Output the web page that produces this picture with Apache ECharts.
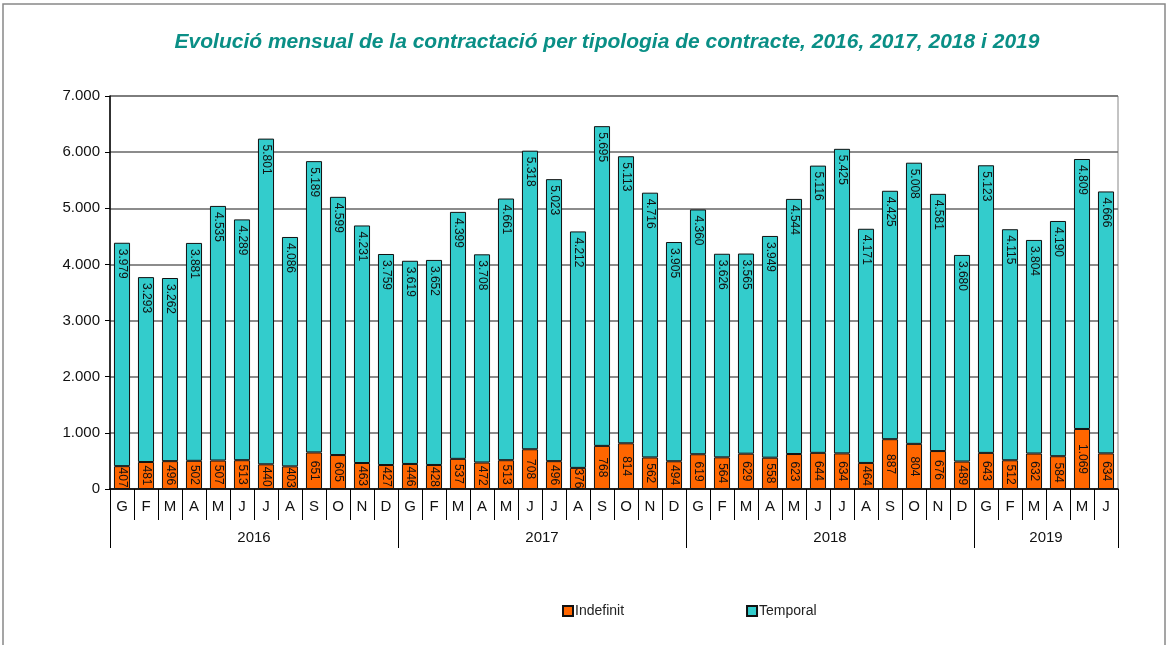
<!DOCTYPE html>
<html>
<head>
<meta charset="utf-8">
<script src="https://cdn.jsdelivr.net/npm/echarts@6/dist/echarts.min.js"></script>
<style>
  html, body { margin: 0; padding: 0; background: #fff; }
  #chart { width: 1171px; height: 645px; }
</style>
</head>
<body>
<div id="chart"></div>
<script>
// mesos (G, F, M ... en català)
let monthNames = ['G', 'F', 'M', 'A', 'M', 'J', 'J', 'A', 'S', 'O', 'N', 'D']
let years = ['2016', '2017', '2018', '2019']
let monthsPerYear = [12, 12, 12, 6]

let indefinit = [
  407, 481, 496, 502, 507, 513, 440, 403, 651, 605, 463, 427,
  446, 428, 537, 472, 513, 708, 496, 376, 768, 814, 562, 494,
  619, 564, 629, 558, 623, 644, 634, 464, 887, 804, 676, 489,
  643, 512, 632, 584, 1069, 634
]
let temporal = [
  3979, 3293, 3262, 3881, 4535, 4289, 5801, 4086, 5189, 4599, 4231, 3759,
  3619, 3652, 4399, 3708, 4661, 5318, 5023, 4212, 5695, 5113, 4716, 3905,
  4360, 3626, 3565, 3949, 4544, 5116, 5425, 4171, 4425, 5008, 4581, 3680,
  5123, 4115, 3804, 4190, 4809, 4666
]

// categories del eix de mesos
let categories = []
monthsPerYear.forEach(n => {
  for (let i = 0; i < n; i++) categories.push(monthNames[i])
})

// límits i centres de cada any (per al segon eix)
let yearBounds = [0]
let yearCenters = []
monthsPerYear.forEach(n => {
  let start = yearBounds[yearBounds.length - 1]
  yearCenters.push(start + n / 2)
  yearBounds.push(start + n)
})

const fmt = v => {
  return String(Math.round(v)).replace(/\B(?=(\d{3})+(?!\d))/g, '.')
}

const FONT = '"Liberation Sans", Arial, sans-serif'

let option = {
  backgroundColor: '#fff',
  animation: false,
  title: {
    text: 'Evolució mensual de la contractació per tipologia de contracte, 2016, 2017, 2018 i 2019',
    left: 602,
    textAlign: 'center',
    top: 27,
    textStyle: {
      fontFamily: FONT,
      fontSize: 21,
      fontStyle: 'italic',
      fontWeight: 'bold',
      color: '#0a8f86',
    },
  },
  graphic: [
    {
      type: 'rect',
      shape: { x: 3, y: 4, width: 1162, height: 660 },
      style: { fill: 'none', stroke: '#888', lineWidth: 1.5 },
      silent: true,
    },
  ],
  legend: {
    bottom: 22,
    left: 557,
    itemWidth: 10,
    itemHeight: 10,
    itemGap: 122,
    icon: 'rect',
    textStyle: { fontFamily: FONT, fontSize: 14, color: '#222', padding: [0, 0, 0, -3] },
    data: ['Indefinit', 'Temporal'],
  },
  grid: {
    left: 110,
    right: 53,
    top: 96,
    bottom: 156,
    show: true,
    borderColor: '#888',
    borderWidth: 1,
  },
  xAxis: [
    {
      type: 'category',
      data: categories,
      position: 'bottom',
      axisLine: { lineStyle: { color: '#000', width: 1.5 } },
      axisTick: { show: true, length: 31, lineStyle: { color: '#000' } },
      axisLabel: { fontFamily: FONT, fontSize: 15, color: '#111', margin: 10 },
    },
    {
      type: 'value',
      min: 0,
      max: categories.length,
      position: 'bottom',
      offset: 31,
      splitLine: { show: false },
      axisLine: { show: false },
      axisTick: {
        show: true,
        length: 28,
        customValues: yearBounds,
        lineStyle: { color: '#000' },
      },
      axisLabel: {
        customValues: yearCenters,
        formatter: v => years[yearCenters.indexOf(v)],
        fontFamily: FONT,
        fontSize: 15,
        color: '#111',
        margin: 10,
      },
    },
  ],
  yAxis: {
    type: 'value',
    min: 0,
    max: 7000,
    interval: 1000,
    axisLine: { show: true, lineStyle: { color: '#000', width: 1.5 } },
    axisTick: { show: true, length: 5, lineStyle: { color: '#000' } },
    axisLabel: { formatter: fmt, fontFamily: FONT, fontSize: 15, color: '#111', margin: 10 },
    splitLine: { lineStyle: { color: '#666', width: 1.5 } },
  },
  series: [
    {
      name: 'Indefinit',
      type: 'bar',
      stack: 'total',
      data: indefinit,
      barCategoryGap: '33%',
      itemStyle: { color: '#ff6600', borderColor: '#111', borderWidth: 1 },
      label: {
        show: true,
        position: 'inside',
        rotate: -90,
        align: 'center',
        verticalAlign: 'middle',
        formatter: p => fmt(p.value),
        fontFamily: FONT,
        fontSize: 12,
        color: '#111',
      },
    },
    {
      name: 'Temporal',
      type: 'bar',
      stack: 'total',
      data: temporal,
      barCategoryGap: '33%',
      itemStyle: { color: '#33cccc', borderColor: '#111', borderWidth: 1 },
      label: {
        show: true,
        position: 'insideTop',
        distance: 6,
        rotate: -90,
        align: 'left',
        verticalAlign: 'middle',
        formatter: p => fmt(p.value),
        fontFamily: FONT,
        fontSize: 12,
        color: '#111',
      },
    },
  ],
}

let myChart = echarts.init(document.getElementById('chart'))
myChart.setOption(option)
</script>
</body>
</html>
